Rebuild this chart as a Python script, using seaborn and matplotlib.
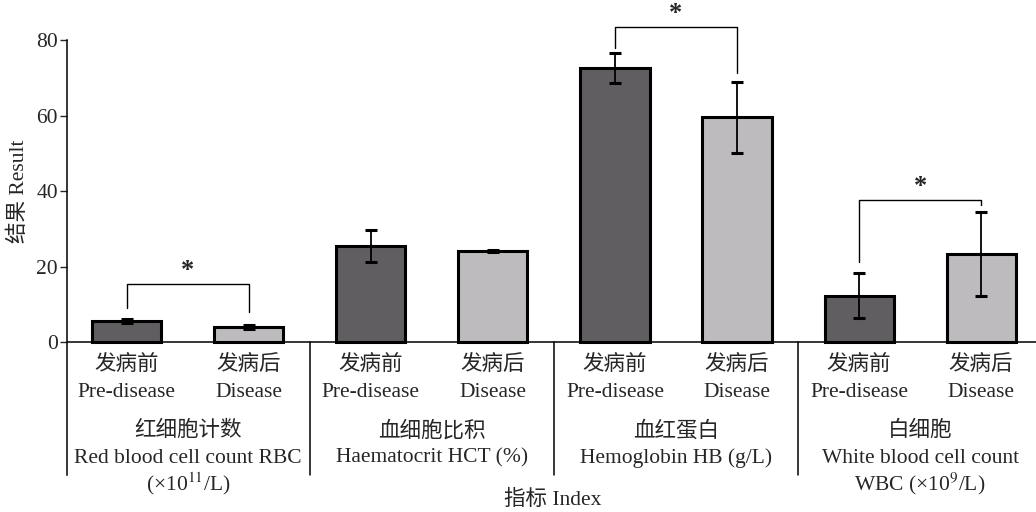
import matplotlib
matplotlib.use("Agg")
import matplotlib.pyplot as plt
import seaborn as sns
import pandas as pd
import numpy as np

# ---- data ----
categories = ["RBC_pre", "RBC_post", "HCT_pre", "HCT_post",
              "HB_pre", "HB_post", "WBC_pre", "WBC_post"]
states = ["pre", "post", "pre", "post", "pre", "post", "pre", "post"]
means = [5.6, 4.05, 25.4, 24.1, 72.6, 59.6, 12.3, 23.3]
errors = [0.6, 0.5, 4.2, 0.3, 4.0, 9.4, 6.0, 11.1]
tick_labels = [["发病前", "Pre-disease"], ["发病后", "Disease"]] * 4
group_labels = [["红细胞计数", "Red blood cell count RBC", "(×10$^{11}$/L)"],
                ["血细胞比积", "Haematocrit HCT (%)"],
                ["血红蛋白", "Hemoglobin HB (g/L)"],
                ["白细胞", "White blood cell count", "WBC (×10$^{9}$/L)"]]
# significance brackets: (left bar, right bar, bracket height, left leg end, right leg end)
sig_left = [0, 4, 6]
sig_right = [1, 5, 7]
sig_height = [15.3, 83.5, 37.6]
sig_left_end = [9.1, 77.8, 21.1]
sig_right_end = [8.0, 71.3, 36.4]

df = pd.DataFrame({"category": categories, "state": states, "value": means})

sns.set_style("white")
plt.rcParams["font.family"] = ["Liberation Serif", "Noto Sans CJK SC", "DejaVu Sans"]
plt.rcParams["mathtext.fontset"] = "stix"

FS = 15.5

fig = plt.figure(figsize=(10.36, 5.12), dpi=100)
ax = fig.add_axes([0.0647, 0.0723, 0.9353, 0.8496])

sns.barplot(data=df, x="category", y="value", hue="state",
            palette={"pre": "#625d62", "post": "#bdbbbe"},
            dodge=False, width=0.566, errorbar=None, legend=False,
            edgecolor="black", linewidth=2.2, ax=ax, zorder=2)

x = np.arange(len(categories))
ax.errorbar(x, means, yerr=errors, fmt="none", ecolor="black",
            elinewidth=1.3, capsize=4.3, capthick=2.2, zorder=3)

ax.set_xlim(-0.49, len(categories) - 0.55)
ax.set_ylim(-35.2, 80)
ax.set_yticks([0, 20, 40, 60, 80])
ax.tick_params(axis="y", direction="out", length=5, width=1, labelsize=FS,
               left=True, pad=1.5)
ax.tick_params(axis="x", bottom=False, labelbottom=False)
ax.set_xlabel("")
ax.set_ylabel("")
for s in ["top", "right", "bottom"]:
    ax.spines[s].set_visible(False)
ax.spines["left"].set_linewidth(1.1)
ax.spines["left"].set_color("black")
ax.axhline(0, color="black", lw=1.1, zorder=4)

# category tick labels (two lines each)
tick_line_y = [-5.95, -13.3]
for i, lines in enumerate(tick_labels):
    for ly, t in zip(tick_line_y, lines):
        ax.text(i, ly, t, ha="center", va="center", fontsize=FS)

# group labels and separators
group_line_y = [-23.6, -30.75, -37.5]
for g, lines in enumerate(group_labels):
    for ly, t in zip(group_line_y, lines):
        ax.text(2 * g + 0.5, ly, t, ha="center", va="center", fontsize=FS,
                clip_on=False)
for g in range(1, 4):
    ax.plot([2 * g - 0.5, 2 * g - 0.5], [0, -35.2], color="black", lw=1.1,
            clip_on=False, zorder=4)

# significance brackets
for l, r, h, le, re in zip(sig_left, sig_right, sig_height, sig_left_end, sig_right_end):
    ax.plot([l, l, r, r], [le, h, h, re], color="black", lw=1.0, zorder=4,
            clip_on=False)
    ax.text((l + r) / 2, h + 0.6, "*", ha="center", va="bottom", fontsize=19,
            fontweight="bold")

fig.text(553 / 1036, 1 - 500 / 512, "指标 Index", ha="center", va="center",
         fontsize=FS)
fig.text(19 / 1036, 1 - 191 / 512, "结果 Result", ha="center", va="center",
         rotation=90, fontsize=FS)

fig.savefig("out.png", dpi=100)
